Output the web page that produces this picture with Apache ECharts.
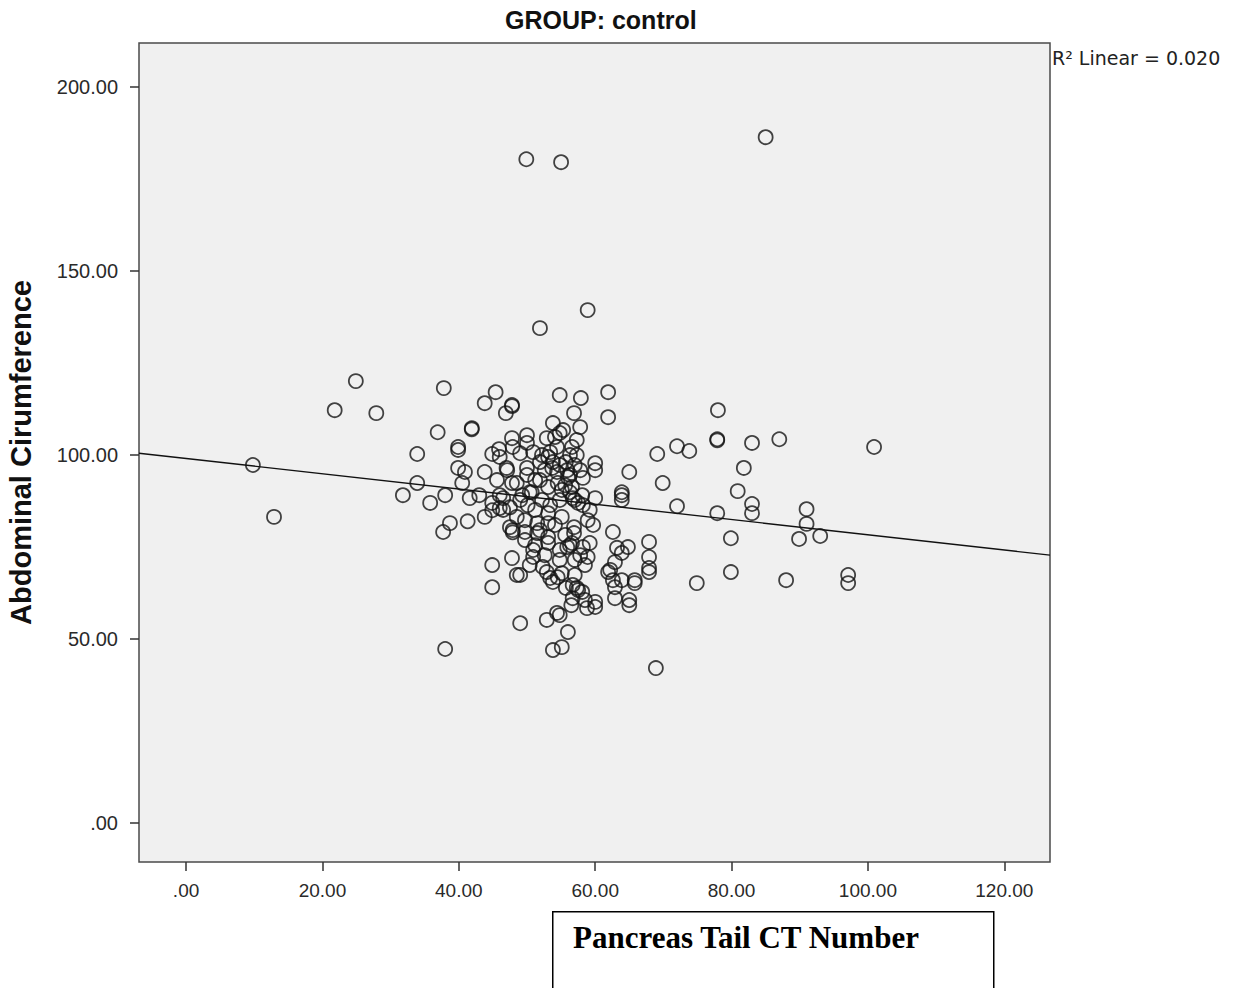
<!DOCTYPE html>
<html>
<head>
<meta charset="utf-8">
<title>GROUP: control</title>
<script src="https://cdn.jsdelivr.net/npm/echarts@6/dist/echarts.min.js"></script>
<style>
  html, body { margin: 0; padding: 0; background: #fff; }
  #chart { width: 1239px; height: 988px; }
</style>
</head>
<body>
<div id="chart"></div>
<script>
// Pancreas Tail CT Number (x) and Abdominal Circumference (y)
var ctNumber = [
  9.8, 12.9, 21.8, 24.9, 27.9, 31.8, 33.9, 33.9, 35.8, 36.9, 37.8, 37.7, 38.0, 38.0, 38.7,
  39.9, 39.9, 39.9, 40.9, 41.9, 41.9, 40.5, 41.6, 43.0, 43.8, 43.8, 43.8, 41.3, 44.9, 44.9,
  45.4, 44.9, 45.9, 46.0, 46.9, 47.8, 47.8, 47.9, 47.0, 45.6, 48.5, 44.9, 44.9, 46.0, 47.5,
  47.5, 47.9, 47.8, 48.5, 49.0, 47.8, 54.8, 57.9, 61.9, 56.9, 61.9, 53.8, 57.8, 55.3, 52.9,
  54.1, 54.8, 57.3, 50.0, 50.0, 50.9, 52.2, 49.0, 53.4, 54.4, 56.6, 56.3, 57.3, 60.0, 60.0,
  47.1, 50.0, 50.0, 53.7, 54.4, 55.9, 56.0, 47.8, 51.2, 53.1, 54.5, 55.1, 56.6, 50.7, 49.3,
  58.1, 60.0, 46.0, 46.5, 46.5, 48.5, 47.9, 49.7, 51.5, 51.5, 53.1, 53.1, 53.1, 53.1, 55.1,
  58.9, 56.9, 56.9, 54.8, 55.9, 56.6, 58.2, 59.2, 58.9, 50.9, 50.9, 49.0, 50.4, 52.3, 52.9,
  53.4, 53.8, 54.5, 55.1, 57.0, 56.7, 57.3, 56.7, 58.1, 58.8, 60.0, 60.0, 52.9, 54.4, 54.8,
  56.0, 53.8, 55.1, 62.2, 62.6, 62.9, 62.9, 62.6, 63.2, 69.1, 72.0, 73.8, 77.9, 77.9, 83.0,
  65.0, 69.9, 63.9, 63.9, 63.9, 72.0, 77.9, 81.8, 80.9, 64.8, 63.9, 62.9, 61.9, 67.9, 67.9,
  67.9, 67.9, 65.8, 65.8, 63.9, 65.0, 65.0, 74.9, 79.9, 79.9, 78.0, 87.0, 100.9, 83.0, 83.0,
  91.0, 91.0, 89.9, 93.0, 88.0, 97.1, 97.1, 68.9, 49.9, 55.0, 85.0, 51.9, 58.9,
  53.1, 53.8, 54.8, 52.6, 51.9, 55.6, 56.3, 57.0, 57.5, 58.2, 56.7, 54.8, 53.4, 52.2, 51.2,
  50.1, 49.0, 50.4, 51.9, 55.7, 57.0, 57.8, 58.2, 56.3,
  49.7, 51.9, 54.1, 55.6, 56.3, 57.8, 58.5, 57.0, 54.8, 52.6, 51.2, 49.7, 59.2, 59.7,
  57.5, 56.5, 58.5, 55.7
];
var abdCirc = [
  97.3, 83.2, 112.2, 120.1, 111.4, 89.1, 100.3, 92.4, 87.0, 106.2, 118.2, 79.1, 89.1, 47.3, 81.5,
  102.2, 101.4, 96.5, 95.4, 107.3, 107.0, 92.4, 88.3, 89.1, 114.1, 95.4, 83.2, 82.0, 70.1, 64.1,
  117.1, 100.3, 101.6, 99.5, 111.4, 113.3, 104.6, 102.2, 96.5, 93.2, 92.4, 87.0, 85.0, 85.6, 85.8,
  80.4, 79.0, 72.0, 67.4, 54.3, 113.6, 116.3, 115.5, 117.1, 111.4, 110.3, 108.7, 107.6, 106.8, 104.6,
  104.9, 106.0, 104.1, 105.4, 103.3, 100.8, 100.0, 100.5, 100.8, 102.2, 102.2, 100.0, 100.0, 97.8, 95.9,
  95.9, 96.5, 94.6, 96.5, 95.4, 95.9, 94.0, 92.4, 93.2, 91.3, 92.4, 90.5, 91.3, 89.9, 89.1,
  89.1, 88.3, 89.1, 88.3, 85.1, 83.2, 79.6, 79.1, 81.5, 78.8, 84.2, 81.5, 77.7, 76.1, 83.2,
  82.3, 80.4, 78.8, 74.2, 75.0, 76.1, 75.0, 76.1, 72.3, 74.2, 72.3, 67.4, 70.1, 69.6, 68.2,
  66.6, 65.5, 66.8, 67.9, 67.4, 64.7, 63.9, 61.1, 62.8, 58.4, 60.1, 58.7, 55.2, 57.1, 56.5,
  51.9, 47.0, 47.8, 68.8, 66.0, 64.1, 61.1, 79.1, 74.8, 100.3, 102.4, 101.1, 104.3, 104.0, 103.3,
  95.4, 92.4, 89.9, 89.1, 87.8, 86.1, 84.2, 96.5, 90.2, 75.0, 73.4, 70.9, 68.2, 76.4, 72.3,
  69.3, 68.2, 66.0, 65.2, 66.0, 60.6, 59.2, 65.2, 77.4, 68.2, 112.2, 104.3, 102.2, 86.7, 84.2,
  85.3, 81.3, 77.2, 78.0, 66.0, 67.4, 65.2, 42.1, 180.4, 179.6, 186.4, 134.5, 139.4,
  99.5, 98.1, 97.3, 95.9, 93.2, 91.8, 89.9, 87.8, 87.0, 86.4, 88.3, 87.8, 86.4, 87.8, 85.1,
  86.4, 87.8, 89.9, 98.1, 98.1, 97.3, 95.9, 93.8, 94.6,
  82.3, 79.6, 81.0, 78.3, 75.5, 72.8, 70.1, 71.5, 71.5, 72.8, 75.5, 76.9, 85.1, 81.0,
  63.3, 59.2, 60.6, 63.9
];

// fitted line end points (at the plot edges)
var fitX = [-6.9, 126.7];
var fitY = [100.5, 72.8];

var xTicks = [0, 20, 40, 60, 80, 100, 120];
var yTicks = [0, 50, 100, 150, 200];

var chartInstance = echarts.init(document.getElementById('chart'), null, { renderer: 'svg' });

function tickText (v) {
  // SPSS style: 0 -> ".00"
  return v === 0 ? '.00' : v.toFixed(2);
}

var option = {
  animation: false,
  backgroundColor: '#ffffff',
  grid: {
    left: 139,
    right: 189,
    top: 43,
    bottom: 126,
    outerBoundsMode: 'none',
    show: true,
    backgroundColor: '#f0f0f0',
    borderColor: '#4a4a4a',
    borderWidth: 1.5
  },
  xAxis: {
    type: 'value',
    min: -6.9,
    max: 126.7,
    splitLine: { show: false },
    axisLine: { show: false, onZero: false },
    axisTick: {
      show: true,
      customValues: xTicks,
      length: 9,
      lineStyle: { color: '#333', width: 1.5 }
    },
    axisLabel: {
      customValues: xTicks,
      formatter: tickText,
      margin: 19,
      color: '#2a2a2a',
      fontSize: 19,
      fontFamily: 'Liberation Sans, Arial, sans-serif'
    }
  },
  yAxis: {
    type: 'value',
    min: -10.6,
    max: 212,
    splitLine: { show: false },
    axisLine: { show: false, onZero: false },
    axisTick: {
      show: true,
      customValues: yTicks,
      length: 9,
      lineStyle: { color: '#333', width: 1.5 }
    },
    axisLabel: {
      customValues: yTicks,
      formatter: tickText,
      margin: 21,
      color: '#2a2a2a',
      fontSize: 20,
      fontFamily: 'Liberation Sans, Arial, sans-serif'
    },
    name: 'Abdominal Cirumference',
    nameLocation: 'middle',
    nameGap: 104,
    nameTextStyle: {
      color: '#111',
      fontSize: 29,
      fontWeight: 'bold',
      fontFamily: 'Liberation Sans, Arial, sans-serif'
    }
  },
  series: [
    {
      type: 'scatter',
      symbol: 'circle',
      symbolSize: 14,
      itemStyle: {
        color: 'rgba(0,0,0,0)',
        borderColor: '#151515',
        borderWidth: 1.8
      },
      z: 3,
      data: ctNumber.map(function (x, i) { return [x, abdCirc[i]] })
    },
    {
      type: 'line',
      symbol: 'none',
      z: 2,
      lineStyle: { color: '#111', width: 1.4 },
      data: fitX.map(function (x, i) { return [x, fitY[i]] })
    }
  ],
  graphic: [
    {
      type: 'text',
      left: 505,
      top: 7,
      style: {
        text: 'GROUP: control',
        fill: '#111',
        font: 'bold 25px "Liberation Sans", Arial, sans-serif'
      }
    },
    {
      type: 'text',
      left: 1052,
      top: 48,
      style: {
        text: 'R² Linear = 0.020',
        fill: '#222',
        font: '19px "DejaVu Sans", Verdana, sans-serif'
      }
    },
    {
      type: 'rect',
      left: 552,
      top: 911,
      shape: { width: 441, height: 100 },
      style: { fill: '#fff', stroke: '#000', lineWidth: 1.5 }
    },
    {
      type: 'text',
      left: 573,
      top: 922,
      style: {
        text: 'Pancreas Tail CT Number',
        fill: '#000',
        font: 'bold 31px "Liberation Serif", "Times New Roman", serif'
      }
    }
  ]
}

chartInstance.setOption(option)
</script>
</body>
</html>
